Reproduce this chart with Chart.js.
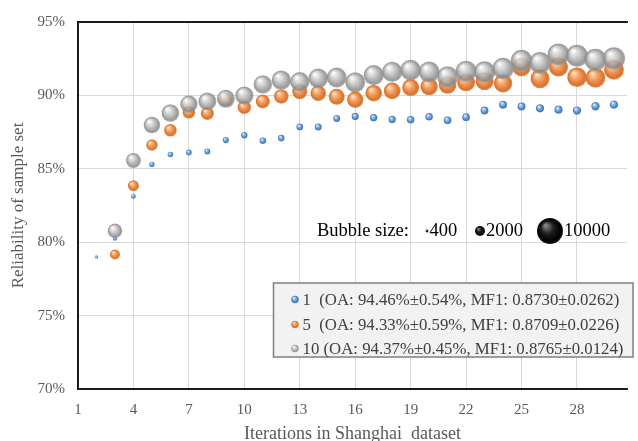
<!DOCTYPE html>
<html><head><meta charset="utf-8">
<script src="https://cdn.jsdelivr.net/npm/chart.js@4/dist/chart.umd.min.js"></script>
<style>html,body{margin:0;padding:0;background:#fff;}#wrap{width:638px;height:441px;}</style>
</head><body><div id="wrap"><canvas id="c" width="638" height="441"></canvas></div>
<script>
// ---- data ----
const seriesNames = ['1  (OA: 94.46%\u00b10.54%, MF1: 0.8730\u00b10.0262)',
                     '5  (OA: 94.33%\u00b10.59%, MF1: 0.8709\u00b10.0226)',
                     '10 (OA: 94.37%\u00b10.45%, MF1: 0.8765\u00b10.0124)'];
const iterBlue = [2,3,4,5,6,7,8,9,10,11,12,13,14,15,16,17,18,19,20,21,22,23,24,25,26,27,28,29,30];
const iterOther = [3,4,5,6,7,8,9,10,11,12,13,14,15,16,17,18,19,20,21,22,23,24,25,26,27,28,29,30];
const relBlue = [79.0,80.25,83.12,85.30,85.97,86.11,86.18,86.96,87.29,86.91,87.09,87.85,87.85,88.43,88.57,88.48,88.36,88.34,88.54,88.30,88.52,88.97,89.37,89.24,89.12,89.03,88.97,89.26,89.37];
const relOrange = [79.16,83.85,86.62,87.63,88.85,88.77,89.70,89.19,89.59,89.93,90.26,90.15,89.90,89.70,90.15,90.31,90.53,90.60,90.71,90.89,90.98,90.82,91.94,91.14,91.94,91.24,91.20,91.75];
const relGray = [80.77,85.57,87.98,88.80,89.41,89.59,89.77,89.99,90.75,91.04,90.93,91.16,91.22,90.89,91.38,91.60,91.72,91.60,91.27,91.65,91.60,91.83,92.37,92.22,92.80,92.70,92.42,92.52];
const sizeBlue = [480,640,720,830,870,910,950,1000,1040,1080,1090,1130,1180,1180,1230,1250,1280,1300,1320,1350,1380,1400,1420,1440,1460,1480,1500,1520,1540];
const sizeOrange = [2000,2320,2520,2880,2880,3030,3110,3190,3430,3670,3930,4100,4280,4470,4560,4650,4750,4940,5040,5240,5340,5440,5640,5750,5850,6070,6180,6280];
const sizeGray = [3670,3840,4560,5040,4940,5140,5240,5340,5440,5960,5960,6070,6180,6280,6390,6500,6620,6730,6840,6840,6960,7070,7190,7190,7310,7430,7430,7550];
const sizeLegend = [400, 2000, 10000];
const xTicks = [1,4,7,10,13,16,19,22,25,28];
const yTicks = [70,75,80,85,90,95];

// ---- styles ----
const FONT = "'Liberation Serif', 'Times New Roman', serif";
const PAL = {
  blue:   ['rgba(230,240,252,1)','rgba(125,172,222,1)','rgba(68,122,182,1)','rgba(90,140,198,1)'],
  orange: ['rgba(253,225,198,0.95)','rgba(242,152,84,0.95)','rgba(212,108,40,0.95)','rgba(232,135,66,0.95)'],
  gray:   ['rgba(252,252,252,0.84)','rgba(192,192,192,0.84)','rgba(135,135,135,0.84)','rgba(155,155,155,0.84)'],
  black:  ['rgba(140,140,140,1)','rgba(30,30,30,1)','rgba(0,0,0,1)','rgba(20,20,20,1)']
};
function radiusOf(s){ return Math.max(1.4, 0.1447*Math.sqrt(s) - 1.47); }
function grad(ctx, x, y, r, pal){
  const g = ctx.createRadialGradient(x - r*0.35, y - r*0.45, r*0.05, x, y, r);
  g.addColorStop(0, pal[0]); g.addColorStop(0.45, pal[1]);
  g.addColorStop(0.85, pal[2]); g.addColorStop(1, pal[3]);
  return g;
}
function sphere(ctx, x, y, r, pal){
  ctx.save(); ctx.beginPath(); ctx.arc(x, y, r, 0, Math.PI*2);
  ctx.fillStyle = grad(ctx, x, y, r, pal); ctx.fill(); ctx.restore();
}
function pts(xs, ys, ss){ return xs.map((x,i)=>({x:x, y:ys[i], r:radiusOf(ss[i])})); }
function bg(pal){
  return function(c){
    if (c.type !== 'data' || !c.raw) return pal[1];
    const ch = c.chart;
    if (!ch.scales || !ch.scales.x || !ch.scales.y) return pal[1];
    const px = ch.scales.x.getPixelForValue(c.raw.x);
    const py = ch.scales.y.getPixelForValue(c.raw.y);
    if (!isFinite(px) || !isFinite(py) || !isFinite(c.raw.r)) return pal[1];
    return grad(ch.ctx, px, py, c.raw.r, pal);
  };
}
const pals = [PAL.blue, PAL.orange, PAL.gray];

const framePlugin = {
  id:'frame',
  beforeDatasetsDraw(chart){
    const {ctx, chartArea:a} = chart;
    ctx.save(); ctx.strokeStyle = '#1a1a1a'; ctx.lineWidth = 2;
    ctx.beginPath();
    ctx.moveTo(a.right+1, a.top); ctx.lineTo(a.left, a.top); ctx.lineTo(a.left, a.bottom); ctx.lineTo(a.right+1, a.bottom);
    ctx.stroke(); ctx.restore();
  },
  afterDatasetsDraw(chart){
    const {ctx, chartArea:a} = chart;
    ctx.save();
    ctx.font = "18.5px " + FONT; ctx.fillStyle = '#000'; ctx.textBaseline = 'middle'; ctx.textAlign = 'left';
    const by = 231;
    ctx.fillText('Bubble size:', a.left + 239, by);
    const bx = [a.left + 349, a.left + 402, a.left + 472];
    sizeLegend.forEach((s,i)=>{
      const r = radiusOf(s);
      sphere(ctx, bx[i], by, r, PAL.black);
      ctx.fillStyle = '#000';
      ctx.fillText(String(s), bx[i] + r + 1, by);
    });
    const L = a.left + 195.5, T = 283, W = 359.5, H = 74;
    ctx.fillStyle = '#f2f2f2'; ctx.fillRect(L, T, W, H);
    ctx.strokeStyle = '#7f7f7f'; ctx.lineWidth = 1.5; ctx.strokeRect(L, T, W, H);
    ctx.font = "16.8px " + FONT;
    const rows = [299.5, 324.5, 348.5];
    chart.data.datasets.forEach((d,i)=>{
      sphere(ctx, L + 21.5, rows[i], 3.8, pals[i]);
      ctx.fillStyle = '#404040';
      ctx.fillText(d.label, L + 29, rows[i] + 1);
    });
    ctx.restore();
  }
};

new Chart(document.getElementById('c'), {
  type: 'bubble',
  data: { datasets: [
    { label: seriesNames[0], data: pts(iterBlue, relBlue, sizeBlue), backgroundColor: bg(PAL.blue), borderWidth: 0, order: 3, clip: false },
    { label: seriesNames[1], data: pts(iterOther, relOrange, sizeOrange), backgroundColor: bg(PAL.orange), borderWidth: 0, order: 2, clip: false },
    { label: seriesNames[2], data: pts(iterOther, relGray, sizeGray), backgroundColor: bg(PAL.gray), borderWidth: 0, order: 1, clip: false }
  ]},
  options: {
    responsive: false, devicePixelRatio: 1, animation: false, events: [],
    layout: { padding: { top: 16, right: 0, left: 0, bottom: 0 } },
    plugins: { legend: { display: false }, tooltip: { enabled: false } },
    scales: {
      x: {
        type: 'linear', min: 1, max: 30.7,
        afterBuildTicks: s => { s.ticks = xTicks.map(v=>({value:v})); },
        afterFit: s => { s.height = 52; },
        grid: { color: '#d9d9d9', lineWidth: 1, drawTicks: false },
        border: { display: false },
        ticks: { color: '#595959', font: { family: FONT, size: 15 }, padding: 12, maxRotation: 0, autoSkip: false },
        title: { display: true, text: 'Iterations in Shanghai  dataset', color: '#595959', font: { family: FONT, size: 18 }, padding: { top: 0, bottom: -4 } }
      },
      y: {
        type: 'linear', min: 70, max: 95,
        afterBuildTicks: s => { s.ticks = yTicks.map(v=>({value:v})); },
        afterFit: s => { s.width = 78; },
        grid: { color: '#d9d9d9', lineWidth: 1, drawTicks: false },
        border: { display: false },
        ticks: { color: '#595959', font: { family: FONT, size: 15 }, padding: 13, callback: v => v + '%' },
        title: { display: true, text: 'Reliability of sample set', color: '#595959', font: { family: FONT, size: 17 }, padding: { top: 8, bottom: 0 } }
      }
    }
  },
  plugins: [framePlugin]
});
</script></body></html>
